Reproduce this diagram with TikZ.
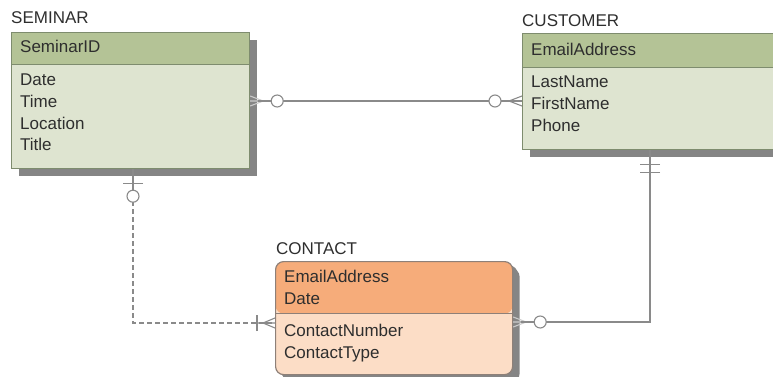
\documentclass[tikz,border=0pt]{standalone}
\usepackage{fontspec}
\setmainfont{Liberation Sans}
\usetikzlibrary{positioning,shadows}

\definecolor{keygreen}{HTML}{B4C396}
\definecolor{bodygreen}{HTML}{DEE4D0}
\definecolor{edgegreen}{HTML}{7E8C6E}
\definecolor{keyorange}{HTML}{F6AC7A}
\definecolor{bodyorange}{HTML}{FCDDC6}
\definecolor{edgeorange}{HTML}{8E8078}
\definecolor{shade}{HTML}{858585}
\definecolor{ink}{HTML}{2E2E2E}
\definecolor{linkgray}{HTML}{8A8A8A}

\tikzset{
	% key colour, body colour, border colour, height of the key part
	entity/.style n args={4}{draw=#3, fill=#2, line width=1.2pt, anchor=north west, inner sep=0,
		drop shadow={shadow xshift=7pt, shadow yshift=-7pt, fill=shade, opacity=1},
		path picture={
			\fill[#1] (path picture bounding box.north west) rectangle ([yshift=-#4]path picture bounding box.north east);
			\draw[#3, line width=1.2pt] ([yshift=-#4]path picture bounding box.north west) -- ([yshift=-#4]path picture bounding box.north east);
		}},
	relation/.style = {draw=linkgray, line width=1.1pt},
	toes/.style = {relation},
	ontop/.style = {toes/.style={relation, draw=linkgray!45}},
	zeromany/.pic = {
		\draw[toes] (0,-5) -- (13,0) -- (0,5) (0,0) -- (13,0);
		\draw[relation] (8,0) -- (21,0);
		\draw[relation, fill=white] (27,0) circle (6pt);},
	zeroone/.pic = {
		\draw[relation] (0,0) -- (21,0) (14,-10) -- (14,10);
		\draw[relation, fill=white] (27,0) circle (6pt);},
	onemany/.pic = {
		\draw[toes] (0,-5) -- (12,0) -- (0,5) (0,0) -- (18,0);
		\draw[relation] (18,-8) -- (18,8);},
	justone/.pic = {
		\draw[relation] (0,0) -- (24,0) (14,-10) -- (14,10) (22,-10) -- (22,10);},
}

\begin{document}
\begin{tikzpicture}[x=1pt, y=-1pt,
	every node/.style = {text=ink, font=\fontsize{17}{21.7}\selectfont},
	title/.style = {anchor=west, inner sep=0},
	keytext/.style = {anchor=west, inner sep=0},
	attrtext/.style = {anchor=north west, align=left, inner sep=0}]
\useasboundingbox (0,0) rectangle (773,377);
\clip (0,0) rectangle (773,377);

% entities
\node[entity={keygreen}{bodygreen}{edgegreen}{32pt}, minimum width=238pt, minimum height=136pt] (seminar) at (11,32) {};
\node[entity={keygreen}{bodygreen}{edgegreen}{34pt}, minimum width=262pt, minimum height=116pt] (customer) at (522,33) {};
\node[entity={keyorange}{bodyorange}{edgeorange}{52pt}, rounded corners=8pt, drop shadow={shadow xshift=5pt, shadow yshift=-4pt, fill=shade, opacity=1},
	minimum width=237pt, minimum height=113pt] (contact) at (275,261) {};

% names and attributes
\node[title] (seminarname) at (11,18) {SEMINAR};
\node[keytext] (seminarid) at (20,46) {SeminarID};
\node[attrtext] (seminarattrs) at (20,74) {Date\\Time\\Location\\Title};

\node[title] (customername) at (522,21) {CUSTOMER};
\node[keytext] (customerid) at (531,49) {EmailAddress};
\node[attrtext] (customerattrs) at (531,76) {LastName\\FirstName\\Phone};

\node[title] (contactname) at (276,249) {CONTACT};
\node[attrtext] (contactkeys) at (284,270) {EmailAddress\\Date};
\node[attrtext] (contactattrs) at (284,324) {ContactNumber\\ContactType};

% relationship ends
\coordinate (seminarright) at (seminar.east |- 0,101);
\coordinate (customerleft) at (customer.west |- 0,101);
\coordinate (seminarbottom) at (seminar.south -| 133,0);
\coordinate (contactleft) at (contact.west |- 0,323);
\coordinate (contactright) at (contact.east |- 0,322);
\coordinate (customerbottom) at (customer.south -| 650,0);

\draw[relation] (seminarright) -- (customerleft);
\draw[relation, dash pattern=on 5pt off 3pt] (seminarbottom) |- (contactleft);
\draw[relation] (contactright) -| (customerbottom);

\pic[ontop] at (seminarright) {zeromany};
\pic[rotate=180] at (customerleft) {zeromany};
\pic[rotate=-90] at (seminarbottom) {zeroone};
\pic[rotate=180] at (contactleft) {onemany};
\pic[ontop] at (contactright) {zeromany};
\pic[rotate=-90] at (customerbottom) {justone};
\end{tikzpicture}
\end{document}
